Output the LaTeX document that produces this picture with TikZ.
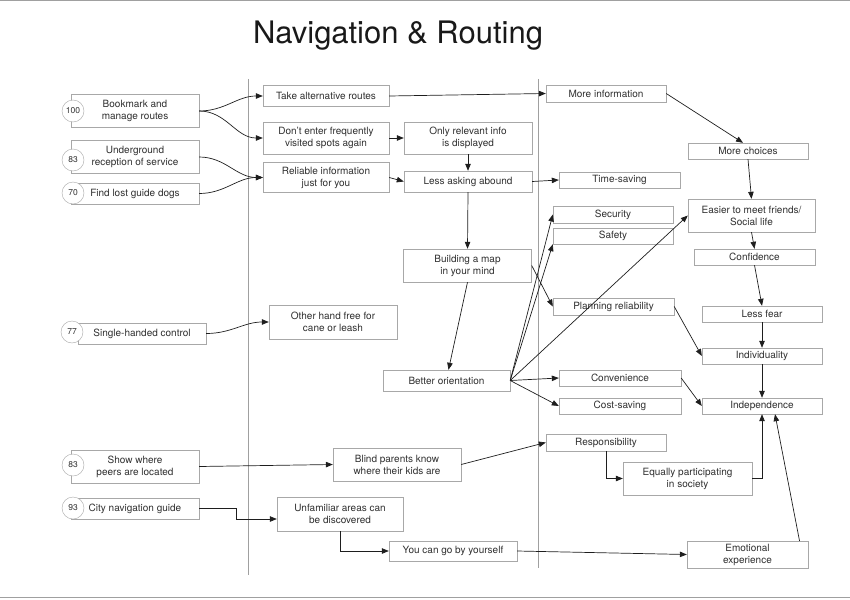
\documentclass[tikz,border=0pt]{standalone}
\usepackage{fontspec}
\setmainfont{TeX Gyre Heros}
\usetikzlibrary{arrows.meta}

\definecolor{boxgray}{HTML}{A8A8A8}
\definecolor{txtgray}{HTML}{303030}
\definecolor{linegray}{HTML}{1E1E1E}
\definecolor{rulegray}{HTML}{A0A0A0}

\begin{document}
\begin{tikzpicture}[x=1pt, y=-1pt, >={Triangle[length=7pt,width=5.5pt]},
        box/.style={rectangle, draw=boxgray, fill=white, text=txtgray, font=\fontsize{10}{12}\selectfont, align=center, inner sep=1pt, minimum width=128pt, minimum height=21pt},
        rbox/.style={box, minimum width=120pt, minimum height=17pt},
        tall/.style={minimum height=33pt},
        num/.style={circle, draw=boxgray, fill=white, text=txtgray, font=\fontsize{8.5}{9}\selectfont, inner sep=0pt, minimum size=22pt},
        link/.style={->, draw=linegray, line width=0.7pt}]

        \useasboundingbox (0,0) rectangle (850,599);

        \draw[rulegray, line width=1pt] (0,0.5) -- (850,0.5);
        \draw[rulegray, line width=1pt] (0,597) -- (850,597);
        \draw[rulegray, line width=0.8pt] (248,79) -- (248,575);
        \draw[rulegray, line width=0.8pt] (538,79) -- (538,568);

        \node[font=\fontsize{31}{36}\selectfont, text=black!90, anchor=base] (title) at (398,44) {Navigation \& Routing};

        \node[box, tall] (bookmark) at (135,111) {Bookmark and\\manage routes};
        \node[box, tall] (underground) at (135,157) {Underground\\reception of service};
        \node[box] (lostdogs) at (135,193.5) {Find lost guide dogs};
        \node[box] (onehand) at (142,333.5) {Single-handed control};
        \node[box, tall] (peers) at (135,466.5) {Show where\\peers are located};
        \node[box] (cityguide) at (135,508.5) {City navigation guide};

        \node[num] (n100) at (73,111) {100};
        \node[num] (n83a) at (73,160) {83};
        \node[num] (n70) at (73,193) {70};
        \node[num] (n77) at (72,332) {77};
        \node[num] (n83b) at (73,465) {83};
        \node[num] (n93) at (73,508) {93};

        \node[box, minimum width=126pt] (altroutes) at (326,96) {Take alternative routes};
        \node[box, minimum width=126pt, minimum height=32pt] (noenter) at (326,138) {Don't enter frequently\\visited spots again};
        \node[box, minimum width=126pt, minimum height=30pt] (reliable) at (326,177.5) {Reliable information\\just for you};
        \node[box, minimum height=32pt] (relevant) at (468,138) {Only relevant info\\is displayed};
        \node[box] (lessask) at (468,181.5) {Less asking abound};
        \node[box, tall] (mapmind) at (467.5,265.5) {Building a map\\in your mind};
        \node[box, minimum width=127pt] (orient) at (446.5,380.5) {Better orientation};
        \node[box, minimum height=34pt] (handfree) at (333,322) {Other hand free for\\cane or leash};
        \node[box, tall] (parents) at (397,464.5) {Blind parents know\\where their kids are};
        \node[box, minimum width=126pt, minimum height=34pt] (unfamiliar) at (340,514) {Unfamiliar areas can\\be discovered};
        \node[box, minimum height=20pt] (byself) at (453,551) {You can go by yourself};

        \node[rbox] (moreinfo) at (606,93.5) {More information};
        \node[rbox, minimum height=16pt] (choices) at (748,151) {More choices};
        \node[rbox, minimum width=121pt, minimum height=16pt] (timesave) at (619.5,180) {Time-saving};
        \node[rbox] (security) at (613,214.5) {Security};
        \node[rbox, minimum height=16pt] (safety) at (613,236) {Safety};
        \node[rbox, minimum width=127pt, tall] (friends) at (751.5,215.5) {Easier to meet friends/\\Social life};
        \node[rbox, minimum width=121pt, minimum height=16pt] (confidence) at (754.5,257) {Confidence};
        \node[rbox, minimum height=16pt] (lessfear) at (762,314) {Less fear};
        \node[rbox, minimum height=16pt] (individ) at (762,356) {Individuality};
        \node[rbox, minimum height=16pt] (indep) at (762,406) {Independence};
        \node[rbox, minimum width=121pt] (planning) at (613.5,306.5) {Planning reliability};
        \node[rbox, minimum width=122pt, minimum height=16pt] (convenience) at (620,378) {Convenience};
        \node[rbox, minimum width=122pt, minimum height=16pt] (costsave) at (620,406) {Cost-saving};
        \node[rbox] (respons) at (606,442.5) {Responsibility};
        \node[rbox, minimum width=129pt, tall] (equally) at (687.5,478.5) {Equally participating\\in society};
        \node[rbox, minimum width=121pt, minimum height=27pt] (emotional) at (747.5,554.5) {Emotional\\experience};

        \draw[link] (bookmark.east) to[out=0, in=180] (altroutes.west);
        \draw[link] (bookmark.east) to[out=0, in=180] (noenter.west);
        \draw[link] (underground.east) to[out=0, in=180] (reliable.west);
        \draw[link] (lostdogs.east) to[out=0, in=180] (reliable.west);
        \draw[link] (onehand.east) to[out=0, in=180] (handfree.west);
        \draw[link] (peers.east) -- (parents.west);
        \draw[link] (cityguide.east) -- ++(37,0) |- ([yshift=-5pt]unfamiliar.west);

        \draw[link] (altroutes.east) -- (moreinfo.west);
        \draw[link] (noenter.east) -- (relevant.west);
        \draw[link] (reliable.east) -- (lessask.west);
        \draw[link] (relevant.south) -- (lessask.north);
        \draw[link] (lessask.east) -- (timesave.west);
        \draw[link] (lessask.south) -- (mapmind.north);
        \draw[link] (mapmind.south) -- ([xshift=2pt]orient.north);
        \draw[link] (mapmind.east) -- (planning.west);
        \draw[link] (unfamiliar.south) |- (byself.west);
        \draw[link] (byself.east) -- (emotional.west);
        \draw[link] (parents.east) -- (respons.west);

        \draw[link] (orient.east) -- (security.west);
        \draw[link] (orient.east) -- (safety.south west);
        \draw[link] (orient.east) -- (friends.west);
        \draw[link] (orient.east) -- (convenience.west);
        \draw[link] (orient.east) -- (costsave.west);

        \draw[link] (moreinfo.east) -- ([xshift=-5pt]choices.north);
        \draw[link] (choices.south) -- (friends.north);
        \draw[link] (friends.south) -- (confidence.north);
        \draw[link] (confidence.south) -- (lessfear.north);
        \draw[link] (lessfear.south) -- (individ.north);
        \draw[link] (individ.south) -- (indep.north);
        \draw[link] (planning.east) -- (individ.west);
        \draw[link] (convenience.east) -- (indep.west);
        \draw[link] (respons.south) |- (equally.west);
        \draw[link] (equally.east) -| (indep.south);
        \draw[link] ([xshift=52pt]emotional.north) -- ([xshift=13pt]indep.south);

    \end{tikzpicture}
\end{document}
